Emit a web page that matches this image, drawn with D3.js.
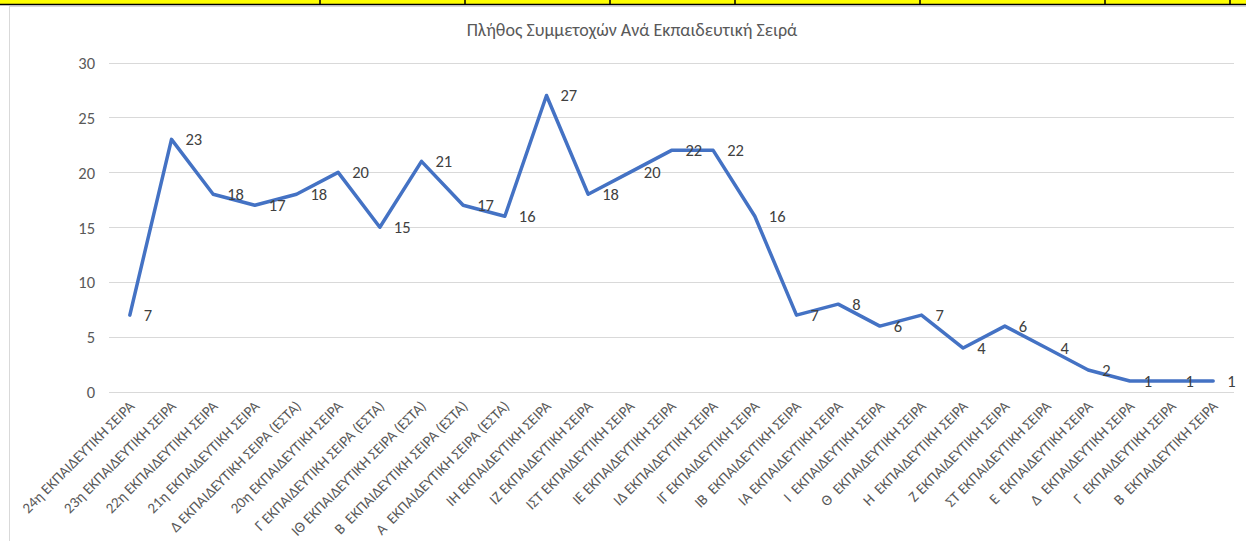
<!DOCTYPE html>
<html>
<head>
<meta charset="utf-8">
<script src="https://cdn.jsdelivr.net/npm/d3@7"></script>
<style>
  html, body { margin: 0; padding: 0; background: #ffffff; }
  svg { display: block; }
  text { font-family: Carlito, "Liberation Sans Narrow", "Open Sans", sans-serif; }
</style>
</head>
<body>
<svg id="chart" width="1246" height="541"></svg>
<script>
const categories = [
  "24η ΕΚΠΑΙΔΕΥΤΙΚΗ ΣΕΙΡΑ",
  "23η ΕΚΠΑΙΔΕΥΤΙΚΗ ΣΕΙΡΑ",
  "22η ΕΚΠΑΙΔΕΥΤΙΚΗ ΣΕΙΡΑ",
  "21η ΕΚΠΑΙΔΕΥΤΙΚΗ ΣΕΙΡΑ",
  "Δ ΕΚΠΑΙΔΕΥΤΙΚΗ ΣΕΙΡΑ (ΕΣΤΑ)",
  "20η ΕΚΠΑΙΔΕΥΤΙΚΗ ΣΕΙΡΑ",
  "Γ ΕΚΠΑΙΔΕΥΤΙΚΗ ΣΕΙΡΑ (ΕΣΤΑ)",
  "ΙΘ ΕΚΠΑΙΔΕΥΤΙΚΗ ΣΕΙΡΑ (ΕΣΤΑ)",
  "Β  ΕΚΠΑΙΔΕΥΤΙΚΗ ΣΕΙΡΑ (ΕΣΤΑ)",
  "Α  ΕΚΠΑΙΔΕΥΤΙΚΗ ΣΕΙΡΑ (ΕΣΤΑ)",
  "ΙΗ ΕΚΠΑΙΔΕΥΤΙΚΗ ΣΕΙΡΑ",
  "ΙΖ ΕΚΠΑΙΔΕΥΤΙΚΗ ΣΕΙΡΑ",
  "ΙΣΤ ΕΚΠΑΙΔΕΥΤΙΚΗ ΣΕΙΡΑ",
  "ΙΕ ΕΚΠΑΙΔΕΥΤΙΚΗ ΣΕΙΡΑ",
  "ΙΔ ΕΚΠΑΙΔΕΥΤΙΚΗ ΣΕΙΡΑ",
  "ΙΓ ΕΚΠΑΙΔΕΥΤΙΚΗ ΣΕΙΡΑ",
  "ΙΒ  ΕΚΠΑΙΔΕΥΤΙΚΗ ΣΕΙΡΑ",
  "ΙΑ ΕΚΠΑΙΔΕΥΤΙΚΗ ΣΕΙΡΑ",
  "Ι  ΕΚΠΑΙΔΕΥΤΙΚΗ ΣΕΙΡΑ",
  "Θ  ΕΚΠΑΙΔΕΥΤΙΚΗ ΣΕΙΡΑ",
  "Η  ΕΚΠΑΙΔΕΥΤΙΚΗ ΣΕΙΡΑ",
  "Ζ ΕΚΠΑΙΔΕΥΤΙΚΗ ΣΕΙΡΑ",
  "ΣΤ ΕΚΠΑΙΔΕΥΤΙΚΗ ΣΕΙΡΑ",
  "Ε  ΕΚΠΑΙΔΕΥΤΙΚΗ ΣΕΙΡΑ",
  "Δ  ΕΚΠΑΙΔΕΥΤΙΚΗ ΣΕΙΡΑ",
  "Γ  ΕΚΠΑΙΔΕΥΤΙΚΗ ΣΕΙΡΑ",
  "Β  ΕΚΠΑΙΔΕΥΤΙΚΗ ΣΕΙΡΑ"
];
const values = [7, 23, 18, 17, 18, 20, 15, 21, 17, 16, 27, 18, 20, 22, 22, 16, 7, 8, 6, 7, 4, 6, 4, 2, 1, 1, 1];
const yTicks = [0, 5, 10, 15, 20, 25, 30];
const title = "Πλήθος Συμμετοχών Ανά Εκπαιδευτική Σειρά";
const topCells = [320, 465, 610, 735, 920, 1105, 1230];

const svg = d3.select("#chart");
const W = 1246, H = 541;

// top spreadsheet strip (yellow cells)
svg.append("rect").attr("x", 0).attr("y", 0).attr("width", W).attr("height", 4).attr("fill", "#ffff00");
svg.append("line").attr("x1", 0).attr("x2", W).attr("y1", 4.5).attr("y2", 4.5).attr("stroke", "#000").attr("stroke-width", 1.5);
svg.selectAll(".cellsep").data(topCells).enter().append("line")
  .attr("x1", d => d).attr("x2", d => d).attr("y1", 0).attr("y2", 4.5)
  .attr("stroke", "#000").attr("stroke-width", 1.5);

// chart area border
svg.append("rect").attr("x", 9.5).attr("y", 6.5).attr("width", W + 10).attr("height", H + 10)
  .attr("fill", "#fff").attr("stroke", "#d9d9d9").attr("stroke-width", 1);

const x = d3.scalePoint().domain(categories).range([109, 1234]).padding(0.5);
const y = d3.scaleLinear().domain([0, 30]).range([392, 62.5]);

// gridlines
svg.append("g").selectAll("line").data(yTicks).enter().append("line")
  .attr("x1", 109).attr("x2", 1234)
  .attr("y1", d => Math.round(y(d)) + 0.5).attr("y2", d => Math.round(y(d)) + 0.5)
  .attr("stroke", "#d9d9d9").attr("stroke-width", 1);

// y axis labels
const yAxis = d3.axisLeft(y).tickValues(yTicks).tickSize(0).tickPadding(0);
const gy = svg.append("g").attr("transform", "translate(95,0)").call(yAxis);
gy.select(".domain").remove();
gy.selectAll("text").attr("fill", "#595959").style("font-size", "16.5px").attr("dy", "0.35em");

// x axis labels
const xAxis = d3.axisBottom(x).tickSize(0).tickPadding(0);
const gx = svg.append("g").attr("transform", "translate(0,392)").call(xAxis);
gx.select(".domain").remove();
gx.selectAll("text")
  .attr("fill", "#595959").style("font-size", "15px").style("white-space", "pre")
  .attr("text-anchor", "end")
  .attr("y", 0).attr("dy", 0)
  .attr("transform", "translate(5,15) rotate(-45)");

// line
const line = d3.line().x((d, i) => x(categories[i])).y(d => y(d));
svg.append("path").datum(values)
  .attr("d", line).attr("fill", "none")
  .attr("stroke", "#4472c4").attr("stroke-width", 3.5)
  .attr("stroke-linejoin", "round").attr("stroke-linecap", "round");

// data labels
svg.append("g").selectAll("text").data(values).enter().append("text")
  .attr("x", (d, i) => x(categories[i]) + 14)
  .attr("y", d => y(d))
  .attr("dy", "0.35em")
  .attr("fill", "#404040").style("font-size", "16.5px")
  .text(d => d);

// title
svg.append("text").attr("x", 632).attr("y", 36).attr("text-anchor", "middle")
  .attr("fill", "#595959").style("font-size", "18px").text(title);
</script>
</body>
</html>
